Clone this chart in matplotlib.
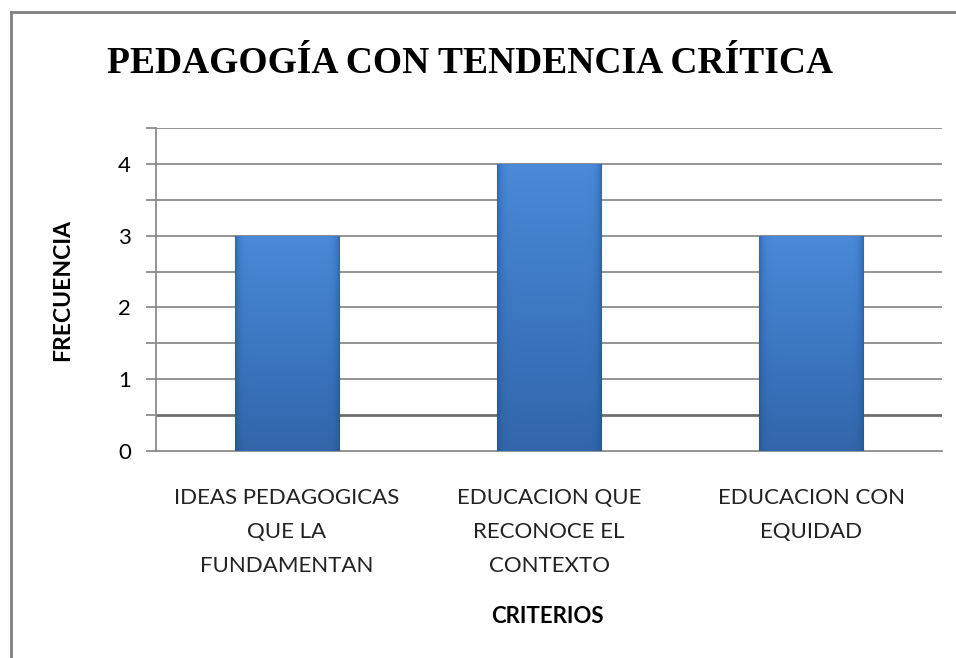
"""
Pedagogía con tendencia crítica: frequency per criterion (bar chart).
"""

import matplotlib.pyplot as plt
import matplotlib.lines as mlines
import numpy as np
from matplotlib.colors import LinearSegmentedColormap

# --- data ---
categories = [
    "IDEAS PEDAGOGICAS\nQUE LA\nFUNDAMENTAN",
    "EDUCACION QUE\nRECONOCE EL\nCONTEXTO",
    "EDUCACION CON\nEQUIDAD",
]
frecuencia = [3, 4, 3]
y_ticks = [0, 1, 2, 3, 4]
y_grid = [0.5, 1, 1.5, 2, 2.5, 3, 3.5, 4, 4.5]

title = "PEDAGOGÍA CON TENDENCIA CRÍTICA"
x_label = "CRITERIOS"
y_label = "FRECUENCIA"


def gradient_bars(ax, bars):
    # vertical shade (lighter top) times horizontal shade (darker edges)
    cmap = LinearSegmentedColormap.from_list(
        "bar", ["#1f4778", "#2d5f9f", "#3a74be", "#4a8ad8"]
    )
    ny, nx = 200, 80
    yy = np.linspace(0, 1, ny)[:, None]
    xx = np.linspace(-1, 1, nx)[None, :]
    shade = 0.45 + 0.55 * yy
    edge = np.clip(1 - np.abs(xx) ** 14, 0, 1)
    img = shade * (0.5 + 0.5 * edge)
    for bar in bars:
        x0, y0 = bar.get_x(), bar.get_y()
        w, h = bar.get_width(), bar.get_height()
        im = ax.imshow(
            img,
            cmap=cmap,
            vmin=0,
            vmax=1,
            origin="lower",
            extent=(x0, x0 + w, y0, y0 + h),
            aspect="auto",
            zorder=4,
            interpolation="bicubic",
        )
        im.set_clip_path(bar)


def main() -> None:
    fig = plt.figure(figsize=(9.56, 6.58), dpi=100)
    ax = fig.add_axes([0.1632, 0.3146, 0.8222, 0.4909])

    x = np.arange(len(categories))
    bars = ax.bar(x, frecuencia, width=0.4, color="#3a72ba",
                  edgecolor="#1f4778", linewidth=0.8, zorder=3)
    gradient_bars(ax, bars)

    ax.set_xlim(-0.5, len(categories) - 0.5)
    ax.set_ylim(0, 4.5)

    # gridlines every 0.5, behind the bars
    for yv in y_grid:
        lw = 2.0 if yv == 0.5 else 1.3
        col = "#6e6e6e" if yv == 0.5 else "#8c8c8c"
        ax.axhline(yv, color=col, linewidth=lw, zorder=0.5)

    ax.set_yticks(y_grid + [0], minor=True)
    ax.set_yticks(y_ticks)
    ax.set_yticklabels([str(v) for v in y_ticks], fontsize=16, family="Lato")
    ax.tick_params(axis="y", which="both", length=7, width=1.3,
                   color="#8c8c8c", pad=11)

    ax.set_xticks(x)
    ax.set_xticklabels(categories, fontsize=16, family="Lato",
                       linespacing=1.85, color="#222222")
    ax.tick_params(axis="x", length=0, pad=27)

    for side in ("top", "right"):
        ax.spines[side].set_visible(False)
    for side in ("left", "bottom"):
        ax.spines[side].set_color("#8c8c8c")
        ax.spines[side].set_linewidth(1.3)

    fig.text(0.112, 0.889, title, family="Liberation Serif",
             fontweight="bold", fontsize=27, ha="left", va="baseline")
    fig.text(0.573, 0.0625, x_label, family="Lato", fontweight="bold",
             fontsize=16, ha="center", va="center")
    fig.text(0.065, 0.559, y_label, family="Lato", fontweight="bold",
             fontsize=16.5, ha="center", va="center", rotation=90)

    # outer chart-area border (top and left only visible)
    fig.add_artist(mlines.Line2D([0.0115, 1.0], [0.982, 0.982],
                                 color="#808080", linewidth=2))
    fig.add_artist(mlines.Line2D([0.0115, 0.0115], [0.0, 0.982],
                                 color="#808080", linewidth=2))

    fig.savefig("out.png", dpi=100)
    plt.close(fig)


if __name__ == "__main__":
    main()
